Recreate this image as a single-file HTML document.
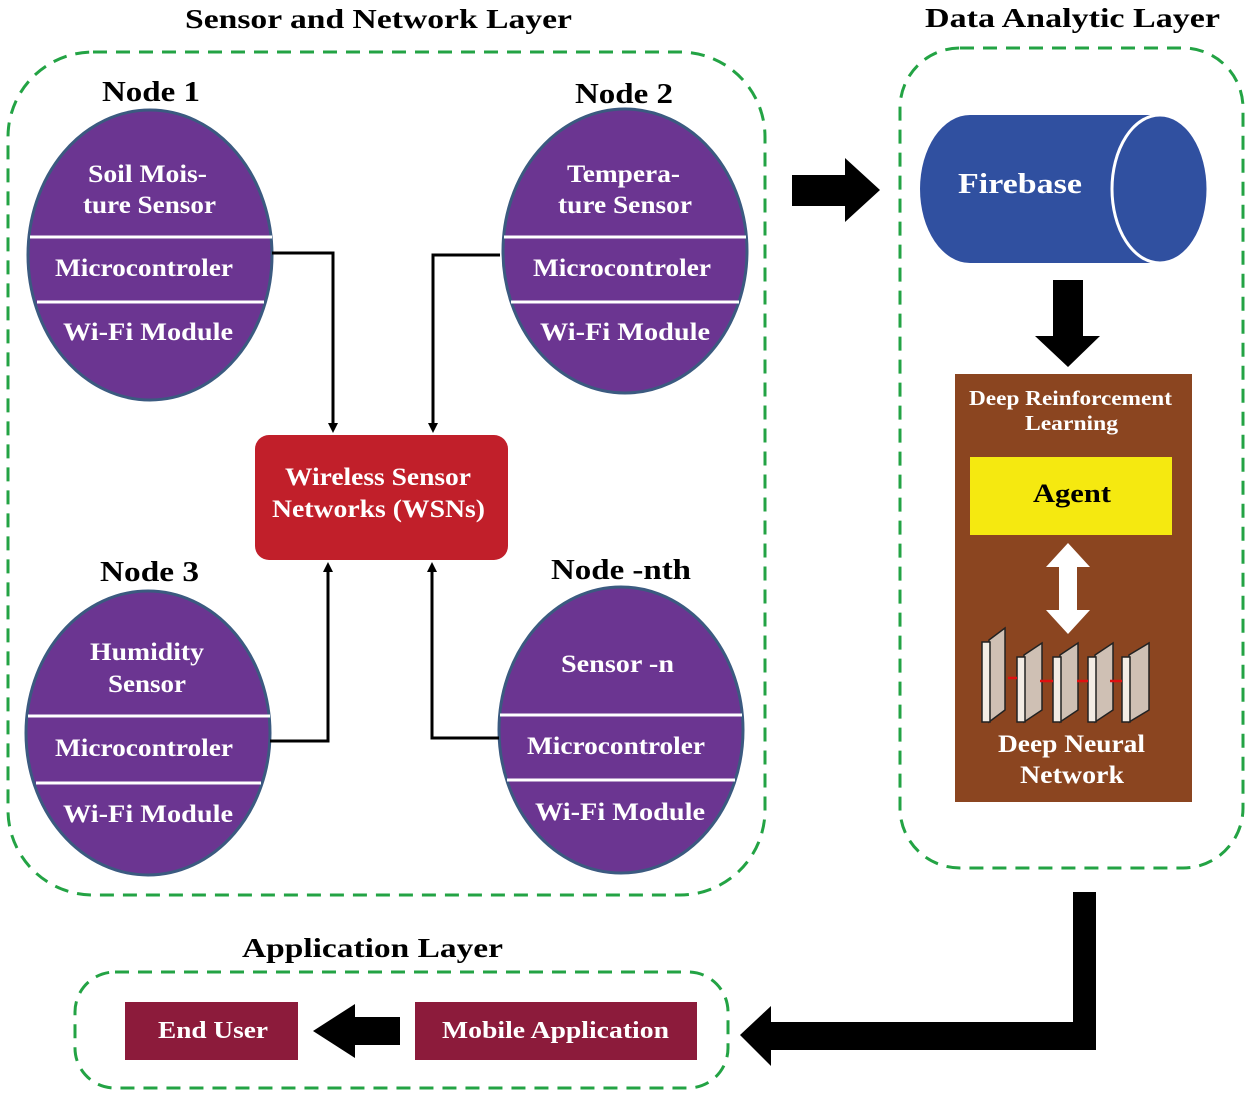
<!DOCTYPE html>
<html><head><meta charset="utf-8"><style>
html,body{margin:0;padding:0;background:#fff;}
svg{display:block;}
text{font-family:"Liberation Serif",serif;font-weight:bold;}
</style></head><body>
<svg width="1250" height="1095" viewBox="0 0 1250 1095" xmlns="http://www.w3.org/2000/svg">
<defs>
<marker id="ah" markerWidth="10" markerHeight="10" refX="5" refY="5" orient="auto" markerUnits="userSpaceOnUse"><path d="M0,0 L10,5 L0,10 Z" fill="#000"/></marker>
</defs>
<g fill="none" stroke="#23a344" stroke-width="3" stroke-dasharray="14,9">
<rect x="8" y="52" width="757" height="843" rx="85"/>
<rect x="900" y="48" width="343" height="820" rx="60"/>
<rect x="75" y="972" width="653" height="116" rx="40"/>
</g>
<g fill="#000" font-size="27" lengthAdjust="spacingAndGlyphs">
<text x="185" y="28" textLength="387" lengthAdjust="spacingAndGlyphs">Sensor and Network Layer</text>
<text x="925" y="27" textLength="295" lengthAdjust="spacingAndGlyphs">Data Analytic Layer</text>
<text x="242" y="957" textLength="261" lengthAdjust="spacingAndGlyphs">Application Layer</text>
</g>
<g fill="#000" font-size="28">
<text x="102" y="101" textLength="98" lengthAdjust="spacingAndGlyphs">Node 1</text>
<text x="575" y="103" textLength="98" lengthAdjust="spacingAndGlyphs">Node 2</text>
<text x="100" y="581" textLength="99" lengthAdjust="spacingAndGlyphs">Node 3</text>
<text x="551" y="579" textLength="140" lengthAdjust="spacingAndGlyphs">Node -nth</text>
</g>
<g fill="#6b3591" stroke="#3b5a80" stroke-width="3">
<ellipse cx="150" cy="255" rx="122" ry="145"/>
<ellipse cx="625" cy="251" rx="122" ry="142"/>
<ellipse cx="148" cy="733" rx="122" ry="142"/>
<ellipse cx="621" cy="730" rx="122" ry="143"/>
</g>
<g stroke="#fff" stroke-width="3">
<line x1="30" y1="237" x2="272" y2="237"/><line x1="37" y1="302" x2="264" y2="302"/>
<line x1="504" y1="237" x2="746" y2="237"/><line x1="511" y1="302" x2="739" y2="302"/>
<line x1="28" y1="716" x2="270" y2="716"/><line x1="36" y1="783" x2="261" y2="783"/>
<line x1="500" y1="715" x2="742" y2="715"/><line x1="507" y1="780" x2="735" y2="780"/>
</g>
<g fill="#fff" font-size="25">
<text x="88" y="182" textLength="119" lengthAdjust="spacingAndGlyphs">Soil Mois-</text>
<text x="83" y="213" textLength="133" lengthAdjust="spacingAndGlyphs">ture Sensor</text>
<text x="55" y="276" textLength="178" lengthAdjust="spacingAndGlyphs">Microcontroler</text>
<text x="63" y="340" textLength="170" lengthAdjust="spacingAndGlyphs">Wi-Fi Module</text>
<text x="567" y="182" textLength="113" lengthAdjust="spacingAndGlyphs">Tempera-</text>
<text x="558" y="213" textLength="134" lengthAdjust="spacingAndGlyphs">ture Sensor</text>
<text x="533" y="276" textLength="178" lengthAdjust="spacingAndGlyphs">Microcontroler</text>
<text x="540" y="340" textLength="170" lengthAdjust="spacingAndGlyphs">Wi-Fi Module</text>
<text x="90" y="660" textLength="114" lengthAdjust="spacingAndGlyphs">Humidity</text>
<text x="108" y="692" textLength="78" lengthAdjust="spacingAndGlyphs">Sensor</text>
<text x="55" y="756" textLength="178" lengthAdjust="spacingAndGlyphs">Microcontroler</text>
<text x="63" y="822" textLength="170" lengthAdjust="spacingAndGlyphs">Wi-Fi Module</text>
<text x="561" y="672" textLength="113" lengthAdjust="spacingAndGlyphs">Sensor -n</text>
<text x="527" y="754" textLength="178" lengthAdjust="spacingAndGlyphs">Microcontroler</text>
<text x="535" y="820" textLength="170" lengthAdjust="spacingAndGlyphs">Wi-Fi Module</text>
</g>
<rect x="255" y="435" width="253" height="125" rx="14" fill="#c11f2a"/>
<g fill="#fff" font-size="25">
<text x="285" y="485" textLength="186" lengthAdjust="spacingAndGlyphs">Wireless Sensor</text>
<text x="272" y="517" textLength="213" lengthAdjust="spacingAndGlyphs">Networks (WSNs)</text>
</g>
<g fill="none" stroke="#000" stroke-width="3">
<polyline points="272,253 333,253 333,428" marker-end="url(#ah)"/>
<polyline points="500,255 433,255 433,428" marker-end="url(#ah)"/>
<polyline points="270,741 328,741 328,567" marker-end="url(#ah)"/>
<polyline points="499,738 432,738 432,567" marker-end="url(#ah)"/>
</g>
<path d="M792,175 L845,175 L845,158 L880,190 L845,222 L845,206 L792,206 Z" fill="#000"/>
<path d="M970,115 L1160,115 L1160,263 L970,263 A50,74 0 0 1 970,115 Z" fill="#3050a0"/>
<ellipse cx="1160" cy="189" rx="48" ry="74" fill="#3050a0" stroke="#fff" stroke-width="3"/>
<text x="958" y="193" fill="#fff" font-size="29" textLength="124" lengthAdjust="spacingAndGlyphs">Firebase</text>
<path d="M1053,280 L1083,280 L1083,336 L1100,336 L1068,367 L1035,336 L1053,336 Z" fill="#000"/>
<rect x="955" y="374" width="237" height="428" fill="#8b4520"/>
<g fill="#fff" font-size="21">
<text x="969" y="405" textLength="203" lengthAdjust="spacingAndGlyphs">Deep Reinforcement</text>
<text x="1025" y="430" textLength="93" lengthAdjust="spacingAndGlyphs">Learning</text>
</g>
<rect x="970" y="457" width="202" height="78" fill="#f5e910"/>
<text x="1033" y="502" fill="#000" font-size="26" textLength="78" lengthAdjust="spacingAndGlyphs">Agent</text>
<path d="M1068,543 L1090,567 L1077,567 L1077,610 L1090,610 L1068,634 L1046,610 L1059,610 L1059,567 L1046,567 Z" fill="#fff"/>
<g stroke="#222" stroke-width="1.5">
<g transform="translate(982,640)"><path d="M7,0 L23,-12 L23,70 L7,82 Z" fill="#cfc0b4"/><rect x="0" y="2" width="8" height="80" fill="#f3ece4"/></g>
<g transform="translate(1017,655)"><path d="M7,0 L25,-12 L25,55 L7,67 Z" fill="#cfc0b4"/><rect x="0" y="2" width="8" height="65" fill="#f3ece4"/></g>
<g transform="translate(1053,655)"><path d="M7,0 L25,-12 L25,55 L7,67 Z" fill="#cfc0b4"/><rect x="0" y="2" width="8" height="65" fill="#f3ece4"/></g>
<g transform="translate(1088,655)"><path d="M7,0 L25,-12 L25,55 L7,67 Z" fill="#cfc0b4"/><rect x="0" y="2" width="8" height="65" fill="#f3ece4"/></g>
<g transform="translate(1122,655)"><path d="M7,0 L27,-12 L27,55 L7,67 Z" fill="#cfc0b4"/><rect x="0" y="2" width="8" height="65" fill="#f3ece4"/></g>
</g>
<g stroke="#e01010" stroke-width="2.5">
<line x1="1008" y1="678" x2="1017" y2="678"/><line x1="1040" y1="681" x2="1053" y2="681"/>
<line x1="1077" y1="681" x2="1088" y2="681"/><line x1="1110" y1="681" x2="1122" y2="681"/>
</g>
<g fill="#fff" font-size="25">
<text x="998" y="752" textLength="147" lengthAdjust="spacingAndGlyphs">Deep Neural</text>
<text x="1020" y="783" textLength="104" lengthAdjust="spacingAndGlyphs">Network</text>
</g>
<path d="M1073,892 L1096,892 L1096,1050 L771,1050 L771,1066 L740,1035 L771,1006 L771,1022 L1073,1022 Z" fill="#000"/>
<rect x="125" y="1002" width="173" height="58" fill="#8c1b3b"/>
<rect x="415" y="1002" width="282" height="58" fill="#8c1b3b"/>
<g fill="#fff" font-size="24">
<text x="158" y="1038" textLength="110" lengthAdjust="spacingAndGlyphs">End User</text>
<text x="442" y="1038" textLength="227" lengthAdjust="spacingAndGlyphs">Mobile Application</text>
</g>
<path d="M400,1017 L355,1017 L355,1004 L313,1031 L355,1058 L355,1045 L400,1045 Z" fill="#000"/>
</svg>
</body></html>
